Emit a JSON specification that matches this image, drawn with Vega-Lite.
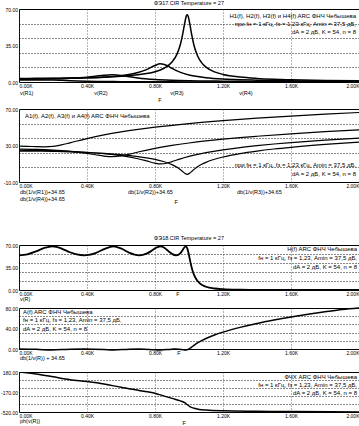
{
"$schema":"https://vega.github.io/schema/vega-lite/v6.json",
"padding":{"left":0,"top":0,"right":0,"bottom":0},
"background":"#ffffff",
"config":{
 "font":"Liberation Sans",
 "view":{"stroke":"#000","strokeWidth":1},
 "axis":{"labelFont":"Liberation Sans","labelFontSize":5,"labelColor":"#000","domain":false,"ticks":false,"labelPadding":1.5,"gridColor":"#444","gridDash":[1,2],"gridWidth":0.8,"gridOpacity":1,"labelOverlap":false},
 "axisRight":{"gridColor":"#111","gridWidth":1,"gridDash":[1,2]},
 "title":{"font":"Liberation Sans","fontSize":5.5,"fontWeight":"normal","color":"#000","offset":1},
 "text":{"font":"Liberation Sans","fontSize":5.5,"color":"#000"}
},
"datasets":{
 "p1":[
  {"f":0,"v":3.45,"s":"R1"},{"f":100,"v":3.486,"s":"R1"},{"f":200,"v":3.596,"s":"R1"},{"f":300,"v":3.798,"s":"R1"},{"f":400,"v":4.121,"s":"R1"},{"f":500,"v":4.628,"s":"R1"},{"f":600,"v":5.445,"s":"R1"},{"f":700,"v":6.877,"s":"R1"},{"f":750,"v":8.057,"s":"R1"},{"f":800,"v":9.86,"s":"R1"},{"f":850,"v":12.92,"s":"R1"},{"f":900,"v":19.11,"s":"R1"},{"f":930,"v":26.94,"s":"R1"},{"f":950,"v":36.47,"s":"R1"},{"f":965,"v":47.68,"s":"R1"},{"f":975,"v":56.74,"s":"R1"},{"f":985,"v":63.62,"s":"R1"},{"f":990,"v":64.5,"s":"R1"},{"f":995,"v":63.13,"s":"R1"},{"f":1005,"v":55.51,"s":"R1"},{"f":1015,"v":46.14,"s":"R1"},{"f":1030,"v":34.78,"s":"R1"},{"f":1050,"v":25.21,"s":"R1"},{"f":1075,"v":18.36,"s":"R1"},{"f":1100,"v":14.28,"s":"R1"},{"f":1150,"v":9.734,"s":"R1"},{"f":1200,"v":7.29,"s":"R1"},{"f":1300,"v":4.744,"s":"R1"},{"f":1400,"v":3.443,"s":"R1"},{"f":1500,"v":2.659,"s":"R1"},{"f":1600,"v":2.138,"s":"R1"},{"f":1800,"v":1.496,"s":"R1"},{"f":2000,"v":1.119,"s":"R1"},
  {"f":0,"v":3.11,"s":"R2"},{"f":100,"v":3.154,"s":"R2"},{"f":200,"v":3.292,"s":"R2"},{"f":300,"v":3.552,"s":"R2"},{"f":400,"v":3.991,"s":"R2"},{"f":500,"v":4.738,"s":"R2"},{"f":600,"v":6.109,"s":"R2"},{"f":700,"v":9.052,"s":"R2"},{"f":750,"v":11.884,"s":"R2"},{"f":800,"v":15.832,"s":"R2"},{"f":830,"v":17.388,"s":"R2"},{"f":850,"v":17.129,"s":"R2"},{"f":875,"v":15.401,"s":"R2"},{"f":900,"v":13.081,"s":"R2"},{"f":950,"v":9.192,"s":"R2"},{"f":1000,"v":6.749,"s":"R2"},{"f":1050,"v":5.213,"s":"R2"},{"f":1100,"v":4.189,"s":"R2"},{"f":1200,"v":2.934,"s":"R2"},{"f":1300,"v":2.208,"s":"R2"},{"f":1400,"v":1.741,"s":"R2"},{"f":1500,"v":1.418,"s":"R2"},{"f":1600,"v":1.183,"s":"R2"},{"f":1800,"v":0.868,"s":"R2"},{"f":2000,"v":0.668,"s":"R2"},
  {"f":0,"v":2.7,"s":"R3"},{"f":100,"v":2.778,"s":"R3"},{"f":200,"v":3.039,"s":"R3"},{"f":300,"v":3.581,"s":"R3"},{"f":400,"v":4.649,"s":"R3"},{"f":450,"v":5.493,"s":"R3"},{"f":500,"v":6.46,"s":"R3"},{"f":550,"v":6.976,"s":"R3"},{"f":600,"v":6.336,"s":"R3"},{"f":650,"v":5.046,"s":"R3"},{"f":700,"v":3.892,"s":"R3"},{"f":800,"v":2.445,"s":"R3"},{"f":900,"v":1.686,"s":"R3"},{"f":1000,"v":1.244,"s":"R3"},{"f":1100,"v":0.963,"s":"R3"},{"f":1200,"v":0.771,"s":"R3"},{"f":1300,"v":0.634,"s":"R3"},{"f":1400,"v":0.531,"s":"R3"},{"f":1600,"v":0.391,"s":"R3"},{"f":1800,"v":0.3,"s":"R3"},{"f":2000,"v":0.239,"s":"R3"},
  {"f":0,"v":1.87,"s":"R4"},{"f":50,"v":1.9,"s":"R4"},{"f":100,"v":1.972,"s":"R4"},{"f":150,"v":2.014,"s":"R4"},{"f":200,"v":1.895,"s":"R4"},{"f":250,"v":1.58,"s":"R4"},{"f":300,"v":1.219,"s":"R4"},{"f":400,"v":0.711,"s":"R4"},{"f":500,"v":0.45,"s":"R4"},{"f":600,"v":0.308,"s":"R4"},{"f":700,"v":0.224,"s":"R4"},{"f":800,"v":0.17,"s":"R4"},{"f":1000,"v":0.108,"s":"R4"},{"f":1200,"v":0.074,"s":"R4"},{"f":1400,"v":0.054,"s":"R4"},{"f":1600,"v":0.042,"s":"R4"},{"f":1800,"v":0.033,"s":"R4"},{"f":2000,"v":0.027,"s":"R4"}
 ],
 "p2":[
  {"f":0,"a":23.89,"s":"R1"},{"f":100,"a":23.8,"s":"R1"},{"f":200,"a":23.53,"s":"R1"},{"f":300,"a":23.06,"s":"R1"},{"f":400,"a":22.35,"s":"R1"},{"f":500,"a":21.34,"s":"R1"},{"f":600,"a":19.93,"s":"R1"},{"f":700,"a":17.9,"s":"R1"},{"f":750,"a":16.53,"s":"R1"},{"f":800,"a":14.77,"s":"R1"},{"f":850,"a":12.42,"s":"R1"},{"f":900,"a":9.02,"s":"R1"},{"f":930,"a":6.04,"s":"R1"},{"f":950,"a":3.41,"s":"R1"},{"f":965,"a":1.08,"s":"R1"},{"f":975,"a":-0.43,"s":"R1"},{"f":985,"a":-1.42,"s":"R1"},{"f":990,"a":-1.54,"s":"R1"},{"f":995,"a":-1.35,"s":"R1"},{"f":1005,"a":-0.24,"s":"R1"},{"f":1015,"a":1.37,"s":"R1"},{"f":1030,"a":3.82,"s":"R1"},{"f":1050,"a":6.62,"s":"R1"},{"f":1075,"a":9.37,"s":"R1"},{"f":1100,"a":11.56,"s":"R1"},{"f":1150,"a":14.88,"s":"R1"},{"f":1200,"a":17.4,"s":"R1"},{"f":1300,"a":21.13,"s":"R1"},{"f":1400,"a":23.91,"s":"R1"},{"f":1500,"a":26.16,"s":"R1"},{"f":1600,"a":28.05,"s":"R1"},{"f":1800,"a":31.15,"s":"R1"},{"f":2000,"a":33.67,"s":"R1"},
  {"f":0,"a":24.8,"s":"R2"},{"f":100,"a":24.67,"s":"R2"},{"f":200,"a":24.3,"s":"R2"},{"f":300,"a":23.64,"s":"R2"},{"f":400,"a":22.63,"s":"R2"},{"f":500,"a":21.14,"s":"R2"},{"f":600,"a":18.93,"s":"R2"},{"f":700,"a":15.52,"s":"R2"},{"f":750,"a":13.15,"s":"R2"},{"f":800,"a":10.66,"s":"R2"},{"f":830,"a":9.85,"s":"R2"},{"f":850,"a":9.98,"s":"R2"},{"f":875,"a":10.9,"s":"R2"},{"f":900,"a":12.32,"s":"R2"},{"f":950,"a":15.38,"s":"R2"},{"f":1000,"a":18.07,"s":"R2"},{"f":1050,"a":20.31,"s":"R2"},{"f":1100,"a":22.21,"s":"R2"},{"f":1200,"a":25.3,"s":"R2"},{"f":1300,"a":27.77,"s":"R2"},{"f":1400,"a":29.83,"s":"R2"},{"f":1500,"a":31.62,"s":"R2"},{"f":1600,"a":33.19,"s":"R2"},{"f":1800,"a":35.89,"s":"R2"},{"f":2000,"a":38.15,"s":"R2"},
  {"f":0,"a":26.02,"s":"R3"},{"f":100,"a":25.78,"s":"R3"},{"f":200,"a":25.0,"s":"R3"},{"f":300,"a":23.57,"s":"R3"},{"f":400,"a":21.3,"s":"R3"},{"f":450,"a":19.85,"s":"R3"},{"f":500,"a":18.45,"s":"R3"},{"f":550,"a":17.78,"s":"R3"},{"f":600,"a":18.61,"s":"R3"},{"f":650,"a":20.59,"s":"R3"},{"f":700,"a":22.85,"s":"R3"},{"f":800,"a":26.88,"s":"R3"},{"f":900,"a":30.11,"s":"R3"},{"f":1000,"a":32.75,"s":"R3"},{"f":1100,"a":34.98,"s":"R3"},{"f":1200,"a":36.91,"s":"R3"},{"f":1300,"a":38.62,"s":"R3"},{"f":1400,"a":40.15,"s":"R3"},{"f":1600,"a":42.82,"s":"R3"},{"f":1800,"a":45.1,"s":"R3"},{"f":2000,"a":47.09,"s":"R3"},
  {"f":0,"a":29.21,"s":"R4"},{"f":50,"a":29.08,"s":"R4"},{"f":100,"a":28.75,"s":"R4"},{"f":150,"a":28.57,"s":"R4"},{"f":200,"a":29.1,"s":"R4"},{"f":250,"a":30.68,"s":"R4"},{"f":300,"a":32.93,"s":"R4"},{"f":400,"a":37.61,"s":"R4"},{"f":500,"a":41.59,"s":"R4"},{"f":600,"a":44.88,"s":"R4"},{"f":700,"a":47.65,"s":"R4"},{"f":800,"a":50.04,"s":"R4"},{"f":1000,"a":54.0,"s":"R4"},{"f":1200,"a":57.22,"s":"R4"},{"f":1400,"a":59.93,"s":"R4"},{"f":1600,"a":62.27,"s":"R4"},{"f":1800,"a":64.33,"s":"R4"},{"f":2000,"a":66.17,"s":"R4"}
 ],
 "p3":[
  {"f":0,"h":54.0},{"f":50,"h":55.6},{"f":100,"h":60.0},{"f":150,"h":65.6},{"f":195,"h":68.0},{"f":220,"h":67.2},{"f":250,"h":64.5},{"f":300,"h":58.7},{"f":340,"h":55.3},{"f":383,"h":54.0},{"f":410,"h":54.6},{"f":450,"h":57.4},{"f":500,"h":63.5},{"f":556,"h":68.0},{"f":600,"h":64.7},{"f":650,"h":57.8},{"f":680,"h":54.9},{"f":707,"h":54.0},{"f":750,"h":56.5},{"f":775,"h":60.1},{"f":800,"h":64.7},{"f":831,"h":68.0},{"f":850,"h":66.6},{"f":870,"h":62.6},{"f":885,"h":59.2},{"f":900,"h":56.2},{"f":924,"h":54.0},{"f":950,"h":57.5},{"f":960,"h":61.0},{"f":970,"h":65.3},{"f":981,"h":68.0},{"f":990,"h":64.7},{"f":995,"h":60.0},{"f":1000,"h":54.0},{"f":1010,"h":41.3},{"f":1020,"h":30.8},{"f":1035,"h":20.3},{"f":1050,"h":13.9},{"f":1080,"h":7.33},{"f":1100,"h":5.09},{"f":1150,"h":2.32},{"f":1200,"h":1.22},{"f":1300,"h":0.42},{"f":1400,"h":0.17},{"f":1600,"h":0.04},{"f":2000,"h":0.005}
 ],
 "p4":[
  {"f":0,"a":0},{"f":100,"a":-0.6},{"f":195,"a":-2},{"f":300,"a":-0.3},{"f":383,"a":0},{"f":500,"a":-1.0},{"f":556,"a":-2},{"f":650,"a":-0.4},{"f":707,"a":0},{"f":800,"a":-1.6},{"f":831,"a":-2},{"f":900,"a":-0.3},{"f":924,"a":0},{"f":970,"a":-1.6},{"f":981,"a":-2},{"f":1000,"a":0},{"f":1010,"a":2.3},{"f":1020,"a":4.9},{"f":1035,"a":8.5},{"f":1050,"a":11.8},{"f":1080,"a":17.35},{"f":1100,"a":20.5},{"f":1150,"a":27.3},{"f":1200,"a":32.9},{"f":1300,"a":42.2},{"f":1400,"a":49.9},{"f":1500,"a":56.5},{"f":1600,"a":62.4},{"f":1700,"a":67.7},{"f":1800,"a":72.5},{"f":1900,"a":77.0},{"f":2000,"a":80.0}
 ],
 "p5":[
  {"f":0,"p":180},{"f":100,"p":145},{"f":200,"p":95},{"f":300,"p":46},{"f":400,"p":12},{"f":500,"p":-30},{"f":600,"p":-88},{"f":700,"p":-140},{"f":800,"p":-192},{"f":850,"p":-238},{"f":900,"p":-282},{"f":950,"p":-325},{"f":975,"p":-358},{"f":990,"p":-392},{"f":1005,"p":-425},{"f":1030,"p":-455},{"f":1060,"p":-475},{"f":1100,"p":-487},{"f":1200,"p":-500},{"f":1400,"p":-508},{"f":1600,"p":-513},{"f":2000,"p":-519}
 ]
},
"spacing":8,
"bounds":"flush",
"vconcat":[
 {"width":340,"height":73,"title":{"text":"ФЭ17.CIR Temperature = 27"},
  "resolve":{"axis":{"y":"independent"}},
  "layer":[
   {"data":{"name":"p1"},"mark":{"type":"line","strokeOpacity":0},
    "encoding":{
     "x":{"field":"f","type":"quantitative","scale":{"domain":[0,2000],"nice":false},"axis":{"grid":true,"values":[0,200,400,600,800,1000,1200,1400,1600,1800,2000],"labelOverlap":false,"labelExpr":"datum.value % 400 == 0 ? format(datum.value / 1000, '.2f') + 'K' : ''"},"title":null},
     "y":{"field":"v","type":"quantitative","scale":{"domain":[0,70],"nice":false,"zero":false},"axis":{"orient":"right","values":[14,28,42,56],"grid":true,"gridColor":"#111","gridWidth":1,"labels":false,"ticks":false,"domain":false},"title":null},
     "detail":{"field":"s"}}},
   {"data":{"name":"p1"},"mark":{"type":"line","color":"#000","strokeWidth":1.5,"interpolate":"monotone"},
    "encoding":{
     "x":{"field":"f","type":"quantitative","scale":{"domain":[0,2000],"nice":false},"title":null},
     "y":{"field":"v","type":"quantitative","scale":{"domain":[0,70],"nice":false,"zero":false},"axis":{"orient":"left","values":[0,35,70],"grid":false,"labelOverlap":false,"labelExpr":"format(datum.value, '.2f')"},"title":null},
     "detail":{"field":"s"}}},
   {"data":{"values":[{}]},"mark":{"type":"text","align":"right","baseline":"top","dx":-3,"dy":4,"lineHeight":8,"fontSize":6},
    "encoding":{"x":{"datum":2000,"type":"quantitative","scale":{"domain":[0,2000],"nice":false}},"y":{"datum":70,"type":"quantitative","scale":{"domain":[0,70],"nice":false,"zero":false},"axis":null},
     "text":{"value":["H1(f),  H2(f),  H3(f)  и  H4(f)  ARC ФНЧ Чебышева","при  fн = 1 кГц,  fз = 1,23 кГц,  Amin = 37,5 дБ,","dA = 2 дБ,  K = 54,  n = 8"]}}},
   {"data":{"values":[{}]},"mark":{"type":"text","align":"left","baseline":"middle","dx":1,"dy":11},
    "encoding":{"x":{"datum":0,"type":"quantitative","scale":{"domain":[0,2000],"nice":false}},"y":{"datum":0,"type":"quantitative","scale":{"domain":[0,70],"nice":false,"zero":false},"axis":null},"text":{"value":"v(R1)"}}},
   {"data":{"values":[{}]},"mark":{"type":"text","align":"center","baseline":"middle","dy":11},
    "encoding":{"x":{"datum":482,"type":"quantitative","scale":{"domain":[0,2000],"nice":false}},"y":{"datum":0,"type":"quantitative","scale":{"domain":[0,70],"nice":false,"zero":false},"axis":null},"text":{"value":"v(R2)"}}},
   {"data":{"values":[{}]},"mark":{"type":"text","align":"center","baseline":"middle","dy":11},
    "encoding":{"x":{"datum":929,"type":"quantitative","scale":{"domain":[0,2000],"nice":false}},"y":{"datum":0,"type":"quantitative","scale":{"domain":[0,70],"nice":false,"zero":false},"axis":null},"text":{"value":"v(R3)"}}},
   {"data":{"values":[{}]},"mark":{"type":"text","align":"center","baseline":"middle","dy":11},
    "encoding":{"x":{"datum":1335,"type":"quantitative","scale":{"domain":[0,2000],"nice":false}},"y":{"datum":0,"type":"quantitative","scale":{"domain":[0,70],"nice":false,"zero":false},"axis":null},"text":{"value":"v(R4)"}}},
   {"data":{"values":[{}]},"mark":{"type":"text","align":"center","baseline":"middle","dy":17.5},
    "encoding":{"x":{"datum":829,"type":"quantitative","scale":{"domain":[0,2000],"nice":false}},"y":{"datum":0,"type":"quantitative","scale":{"domain":[0,70],"nice":false,"zero":false},"axis":null},"text":{"value":"F"}}}
  ]},
 {"width":340,"height":11,"view":{"stroke":null},"data":{"values":[]},"mark":"point"},
 {"width":340,"height":73,
  "resolve":{"axis":{"y":"independent"}},
  "layer":[
   {"data":{"name":"p2"},"mark":{"type":"line","strokeOpacity":0},
    "encoding":{
     "x":{"field":"f","type":"quantitative","scale":{"domain":[0,2000],"nice":false},"axis":{"grid":true,"values":[0,200,400,600,800,1000,1200,1400,1600,1800,2000],"labelOverlap":false,"labelExpr":"datum.value % 400 == 0 ? format(datum.value / 1000, '.2f') + 'K' : ''"},"title":null},
     "y":{"field":"a","type":"quantitative","scale":{"domain":[-10,70],"nice":false,"zero":false},"axis":{"orient":"right","values":[6,22,38,54],"grid":true,"gridColor":"#111","gridWidth":1,"labels":false,"ticks":false,"domain":false},"title":null},
     "detail":{"field":"s"}}},
   {"data":{"name":"p2"},"mark":{"type":"line","color":"#000","strokeWidth":1.2,"interpolate":"monotone"},
    "encoding":{
     "x":{"field":"f","type":"quantitative","scale":{"domain":[0,2000],"nice":false},"title":null},
     "y":{"field":"a","type":"quantitative","scale":{"domain":[-10,70],"nice":false,"zero":false},"axis":{"orient":"left","values":[-10,30,70],"grid":false,"labelOverlap":false,"labelExpr":"datum.value < 0 ? '-' + format(-datum.value, '.2f') : format(datum.value, '.2f')"},"title":null},
     "detail":{"field":"s"}}},
   {"data":{"values":[{}]},"mark":{"type":"text","align":"left","baseline":"top","dx":6,"dy":4,"fontSize":6},
    "encoding":{"x":{"datum":0,"type":"quantitative","scale":{"domain":[0,2000],"nice":false}},"y":{"datum":70,"type":"quantitative","scale":{"domain":[-10,70],"nice":false,"zero":false},"axis":null},
     "text":{"value":"A1(f),  A2(f),  A3(f)  и  A4(f)  ARC ФНЧ Чебышева"}}},
   {"data":{"values":[{}]},"mark":{"type":"text","align":"right","baseline":"top","dx":-3,"dy":-20,"lineHeight":8.5,"fontSize":6},
    "encoding":{"x":{"datum":2000,"type":"quantitative","scale":{"domain":[0,2000],"nice":false}},"y":{"datum":-10,"type":"quantitative","scale":{"domain":[-10,70],"nice":false,"zero":false},"axis":null},
     "text":{"value":["при  fн = 1 кГц,  fз = 1,23 кГц,  Amin = 37,5 дБ,","dA = 2 дБ,  K = 54,  n = 8"]}}},
   {"data":{"values":[{}]},"mark":{"type":"text","align":"left","baseline":"middle","dx":1,"dy":10},
    "encoding":{"x":{"datum":0,"type":"quantitative","scale":{"domain":[0,2000],"nice":false}},"y":{"datum":-10,"type":"quantitative","scale":{"domain":[-10,70],"nice":false,"zero":false},"axis":null},"text":{"value":"db(1/v(R1))+34.65"}}},
   {"data":{"values":[{}]},"mark":{"type":"text","align":"left","baseline":"middle","dx":1,"dy":17},
    "encoding":{"x":{"datum":0,"type":"quantitative","scale":{"domain":[0,2000],"nice":false}},"y":{"datum":-10,"type":"quantitative","scale":{"domain":[-10,70],"nice":false,"zero":false},"axis":null},"text":{"value":"db(1/v(R4))+34.65"}}},
   {"data":{"values":[{}]},"mark":{"type":"text","align":"left","baseline":"middle","dy":10},
    "encoding":{"x":{"datum":641,"type":"quantitative","scale":{"domain":[0,2000],"nice":false}},"y":{"datum":-10,"type":"quantitative","scale":{"domain":[-10,70],"nice":false,"zero":false},"axis":null},"text":{"value":"db(1/v(R2))+34.65"}}},
   {"data":{"values":[{}]},"mark":{"type":"text","align":"left","baseline":"middle","dy":10},
    "encoding":{"x":{"datum":1282,"type":"quantitative","scale":{"domain":[0,2000],"nice":false}},"y":{"datum":-10,"type":"quantitative","scale":{"domain":[-10,70],"nice":false,"zero":false},"axis":null},"text":{"value":"db(1/v(R3))+34.65"}}},
   {"data":{"values":[{}]},"mark":{"type":"text","align":"center","baseline":"middle","dy":20},
    "encoding":{"x":{"datum":924,"type":"quantitative","scale":{"domain":[0,2000],"nice":false}},"y":{"datum":-10,"type":"quantitative","scale":{"domain":[-10,70],"nice":false,"zero":false},"axis":null},"text":{"value":"F"}}}
  ]},
 {"width":340,"height":47,"view":{"stroke":null},"data":{"values":[]},"mark":"point"},
 {"width":340,"height":45,"title":{"text":"ФЭ18.CIR Temperature = 27"},
  "resolve":{"axis":{"y":"independent"}},
  "layer":[
   {"data":{"name":"p3"},"mark":{"type":"line","strokeOpacity":0},
    "encoding":{
     "x":{"field":"f","type":"quantitative","scale":{"domain":[0,2000],"nice":false},"axis":{"grid":true,"values":[0,200,400,600,800,1000,1200,1400,1600,1800,2000],"labelOverlap":false,"labelExpr":"datum.value % 400 == 0 ? format(datum.value / 1000, '.2f') + 'K' : ''"},"title":null},
     "y":{"field":"h","type":"quantitative","scale":{"domain":[0,70],"nice":false,"zero":false},"axis":{"orient":"right","values":[14,28,42,56],"grid":true,"gridColor":"#111","gridWidth":1,"labels":false,"ticks":false,"domain":false},"title":null}}},
   {"data":{"name":"p3"},"mark":{"type":"line","color":"#000","strokeWidth":1.8,"interpolate":"monotone"},
    "encoding":{
     "x":{"field":"f","type":"quantitative","scale":{"domain":[0,2000],"nice":false},"title":null},
     "y":{"field":"h","type":"quantitative","scale":{"domain":[0,70],"nice":false,"zero":false},"axis":{"orient":"left","values":[0,35,70],"grid":false,"labelOverlap":false,"labelExpr":"format(datum.value, '.2f')"},"title":null}}},
   {"data":{"values":[{}]},"mark":{"type":"text","align":"right","baseline":"top","dx":-2,"dy":1,"lineHeight":9,"fontSize":6},
    "encoding":{"x":{"datum":2000,"type":"quantitative","scale":{"domain":[0,2000],"nice":false}},"y":{"datum":70,"type":"quantitative","scale":{"domain":[0,70],"nice":false,"zero":false},"axis":null},
     "text":{"value":["H(f)  ARC ФНЧ Чебышева","fн = 1 кГц,  fз = 1,23,  Amin = 37,5 дБ,","dA = 2 дБ,  K = 54,  n = 8"]}}},
   {"data":{"values":[{}]},"mark":{"type":"text","align":"left","baseline":"middle","dx":1,"dy":9},
    "encoding":{"x":{"datum":0,"type":"quantitative","scale":{"domain":[0,2000],"nice":false}},"y":{"datum":0,"type":"quantitative","scale":{"domain":[0,70],"nice":false,"zero":false},"axis":null},"text":{"value":"v(R)"}}},
   {"data":{"values":[{}]},"mark":{"type":"text","align":"center","baseline":"middle","dy":4},
    "encoding":{"x":{"datum":935,"type":"quantitative","scale":{"domain":[0,2000],"nice":false}},"y":{"datum":0,"type":"quantitative","scale":{"domain":[0,70],"nice":false,"zero":false},"axis":null},"text":{"value":"F"}}}
  ]},
 {"width":340,"height":2,"view":{"stroke":null},"data":{"values":[]},"mark":"point"},
 {"width":340,"height":41,
  "resolve":{"axis":{"y":"independent"}},
  "layer":[
   {"data":{"name":"p4"},"mark":{"type":"line","strokeOpacity":0},
    "encoding":{
     "x":{"field":"f","type":"quantitative","scale":{"domain":[0,2000],"nice":false},"axis":{"grid":true,"values":[0,200,400,600,800,1000,1200,1400,1600,1800,2000],"labelOverlap":false,"labelExpr":"datum.value % 400 == 0 ? format(datum.value / 1000, '.2f') + 'K' : ''"},"title":null},
     "y":{"field":"a","type":"quantitative","scale":{"domain":[0,80],"nice":false,"zero":false},"axis":{"orient":"right","values":[16,32,48,64],"grid":true,"gridColor":"#111","gridWidth":1,"labels":false,"ticks":false,"domain":false},"title":null}}},
   {"data":{"name":"p4"},"mark":{"type":"line","color":"#000","strokeWidth":1.5,"interpolate":"monotone"},
    "encoding":{
     "x":{"field":"f","type":"quantitative","scale":{"domain":[0,2000],"nice":false},"title":null},
     "y":{"field":"a","type":"quantitative","scale":{"domain":[0,80],"nice":false,"zero":false},"axis":{"orient":"left","values":[0,40,80],"grid":false,"labelOverlap":false,"labelExpr":"format(datum.value, '.2f')"},"title":null}}},
   {"data":{"values":[{}]},"mark":{"type":"text","align":"left","baseline":"top","dx":4,"dy":0.5,"lineHeight":8.5,"fontSize":6},
    "encoding":{"x":{"datum":0,"type":"quantitative","scale":{"domain":[0,2000],"nice":false}},"y":{"datum":80,"type":"quantitative","scale":{"domain":[0,80],"nice":false,"zero":false},"axis":null},
     "text":{"value":["A(f)  ARC ФНЧ Чебышева","fн = 1 кГц,  fз = 1,23,  Amin = 37,5 дБ,","dA = 2 дБ,  K = 54,  n = 8"]}}},
   {"data":{"values":[{}]},"mark":{"type":"text","align":"left","baseline":"middle","dx":1,"dy":9},
    "encoding":{"x":{"datum":0,"type":"quantitative","scale":{"domain":[0,2000],"nice":false}},"y":{"datum":0,"type":"quantitative","scale":{"domain":[0,80],"nice":false,"zero":false},"axis":null},"text":{"value":"db(1/v(R)) + 34.65"}}},
   {"data":{"values":[{}]},"mark":{"type":"text","align":"center","baseline":"middle","dy":3.5},
    "encoding":{"x":{"datum":941,"type":"quantitative","scale":{"domain":[0,2000],"nice":false}},"y":{"datum":0,"type":"quantitative","scale":{"domain":[0,80],"nice":false,"zero":false},"axis":null},"text":{"value":"F"}}}
  ]},
 {"width":340,"height":7,"view":{"stroke":null},"data":{"values":[]},"mark":"point"},
 {"width":340,"height":40,
  "resolve":{"axis":{"y":"independent"}},
  "layer":[
   {"data":{"name":"p5"},"mark":{"type":"line","strokeOpacity":0},
    "encoding":{
     "x":{"field":"f","type":"quantitative","scale":{"domain":[0,2000],"nice":false},"axis":{"grid":true,"values":[0,200,400,600,800,1000,1200,1400,1600,1800,2000],"labelOverlap":false,"labelExpr":"datum.value % 400 == 0 ? format(datum.value / 1000, '.2f') + 'K' : ''"},"title":null},
     "y":{"field":"p","type":"quantitative","scale":{"domain":[-520,180],"nice":false,"zero":false},"axis":{"orient":"right","values":[-380,-240,-100,40],"grid":true,"gridColor":"#111","gridWidth":1,"labels":false,"ticks":false,"domain":false},"title":null}}},
   {"data":{"name":"p5"},"mark":{"type":"line","color":"#000","strokeWidth":1.5,"interpolate":"monotone","clip":true},
    "encoding":{
     "x":{"field":"f","type":"quantitative","scale":{"domain":[0,2000],"nice":false},"title":null},
     "y":{"field":"p","type":"quantitative","scale":{"domain":[-520,180],"nice":false,"zero":false},"axis":{"orient":"left","values":[-520,-170,180],"grid":false,"labelOverlap":false,"labelExpr":"datum.value < 0 ? '-' + format(-datum.value, '.2f') : format(datum.value, '.2f')"},"title":null}}},
   {"data":{"values":[{}]},"mark":{"type":"text","align":"right","baseline":"top","dx":-2,"dy":1.5,"lineHeight":8,"fontSize":6},
    "encoding":{"x":{"datum":2000,"type":"quantitative","scale":{"domain":[0,2000],"nice":false}},"y":{"datum":180,"type":"quantitative","scale":{"domain":[-520,180],"nice":false,"zero":false},"axis":null},
     "text":{"value":["ФЧХ  ARC ФНЧ Чебышева","fн = 1 кГц,  fз = 1,23,  Amin = 37,5 дБ,","dA = 2 дБ,  K = 54,  n = 8"]}}},
   {"data":{"values":[{}]},"mark":{"type":"text","align":"left","baseline":"middle","dx":1,"dy":9},
    "encoding":{"x":{"datum":0,"type":"quantitative","scale":{"domain":[0,2000],"nice":false}},"y":{"datum":-520,"type":"quantitative","scale":{"domain":[-520,180],"nice":false,"zero":false},"axis":null},"text":{"value":"ph(v(R))"}}},
   {"data":{"values":[{}]},"mark":{"type":"text","align":"center","baseline":"middle","dy":11},
    "encoding":{"x":{"datum":971,"type":"quantitative","scale":{"domain":[0,2000],"nice":false}},"y":{"datum":-520,"type":"quantitative","scale":{"domain":[-520,180],"nice":false,"zero":false},"axis":null},"text":{"value":"F"}}}
  ]}
]
}
